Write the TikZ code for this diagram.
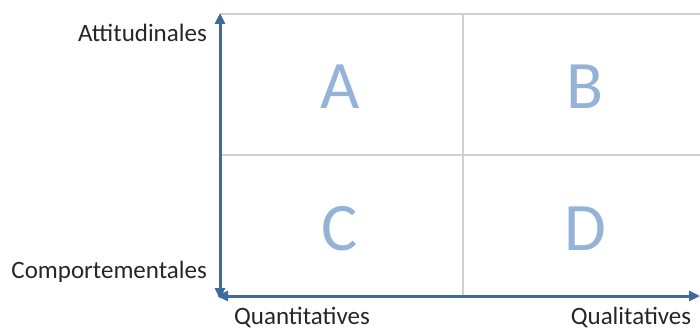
\documentclass[tikz,border=0pt]{standalone}
\usepackage{fontspec}
\setmainfont{Carlito}
\usetikzlibrary{arrows.meta,positioning}
\definecolor{axisblue}{RGB}{62,106,160}
\definecolor{letterblue}{RGB}{149,179,215}
\definecolor{gridgray}{RGB}{208,208,208}

\begin{document}
\begin{tikzpicture}[x=1pt,y=-1pt,
	axis/.style={{Triangle[length=11pt,width=10pt]}-{Triangle[length=11pt,width=10pt]}, line width=3pt, color=axisblue},
	grid/.style={line width=1.2pt, color=gridgray},
	quad/.style={font=\fontsize{68}{68}\selectfont, text=letterblue},
	lab/.style={font=\fontsize{25}{25}\selectfont, text=black!85, inner sep=0pt}]
		\useasboundingbox (0,0) rectangle (700,331);
		% grid
		\coordinate (tl) at (220,14);
		\coordinate (tr) at (700,14);
		\coordinate (ml) at (220,155);
		\coordinate (mr) at (700,155);
		\coordinate (tm) at (463,14);
		\coordinate (bm) at (463,296);
		\draw [grid] (tl) -- (tr);
		\draw [grid] (ml) -- (mr);
		\draw [grid] (tm) -- (bm);
		% axes
		\coordinate (ytop) at (220,13);
		\coordinate (ybot) at (220,299);
		\coordinate (xleft) at (217,296);
		\coordinate (xright) at (700,296);
		\draw [axis] (ybot) -- (ytop);
		\draw [axis] (xleft) -- (xright);
		% quadrants
		\node [quad] (A) at (340,87) {A};
		\node [quad] (B) at (585,87) {B};
		\node [quad] (C) at (340,229) {C};
		\node [quad] (D) at (585,229) {D};
		% labels
		\node [lab, anchor=east] (att) at (207,33) {Attitudinales};
		\node [lab, anchor=east] (comp) at (207,272) {Comportementales};
		\node [lab, anchor=south] (quant) at (302,328) {Quantitatives};
		\node [lab, anchor=south] (qual) at (631,328) {Qualitatives};
	\end{tikzpicture}
\end{document}
